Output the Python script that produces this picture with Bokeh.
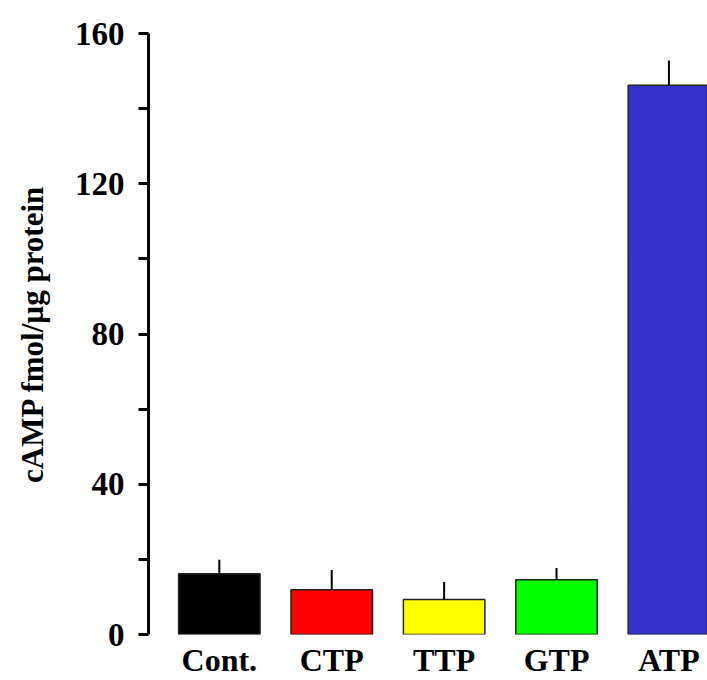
import numpy as np
from bokeh.plotting import figure
from bokeh.models import Range1d, FixedTicker, ColumnDataSource
from bokeh.embed import file_html
from bokeh.resources import INLINE

categories = ["Cont.", "CTP", "TTP", "GTP", "ATP"]
values = [16.2, 11.9, 9.3, 14.6, 146.2]
errors = [3.7, 5.3, 4.7, 3.1, 6.6]
colors = ["#000000", "#FF0000", "#FFFF00", "#00FF00", "#3333CC"]
y_ticks = [0, 40, 80, 120, 160]
y_minor = [20, 60, 100, 140]

xs = list(range(1, len(categories) + 1))
src = ColumnDataSource(dict(
    x=xs, top=values, color=colors,
    err_top=[v + e for v, e in zip(values, errors)],
))

FONT = "Liberation Serif"

p = figure(width=707, height=680, output_backend="svg", toolbar_location=None,
           x_range=Range1d(0.37, 5.343), y_range=Range1d(0, 160),
           min_border_left=148, min_border_right=0, min_border_top=33,
           min_border_bottom=43)
p.outline_line_color = None
p.grid.visible = False
p.background_fill_color = "white"
p.border_fill_color = "white"

p.vbar(x="x", top="top", bottom=0, width=0.725, fill_color="color",
       line_color="#222222", line_width=1.5, source=src)
p.segment(x0="x", y0="top", x1="x", y1="err_top", line_color="black",
          line_width=2, source=src)

# y axis
ya = p.yaxis[0]
ya.ticker = FixedTicker(ticks=y_ticks, minor_ticks=y_minor)
ya.axis_label = "cAMP fmol/µg protein"
ya.axis_label_text_font = FONT
ya.axis_label_text_font_style = "bold"
ya.axis_label_text_font_size = "31px"
ya.axis_label_text_color = "black"
ya.axis_label_standoff = 22
ya.major_label_text_font = FONT
ya.major_label_text_font_style = "bold"
ya.major_label_text_font_size = "33px"
ya.major_label_text_color = "black"
ya.major_label_standoff = 14
ya.axis_line_width = 3
ya.axis_line_color = "black"
ya.major_tick_line_width = 3
ya.minor_tick_line_width = 3
ya.major_tick_out = 10
ya.major_tick_in = 0
ya.minor_tick_out = 10
ya.minor_tick_in = 0

# x axis
xa = p.xaxis[0]
xa.ticker = FixedTicker(ticks=xs, minor_ticks=[])
xa.major_label_overrides = {x: c for x, c in zip(xs, categories)}
xa.axis_line_color = None
xa.major_tick_line_color = None
xa.minor_tick_line_color = None
xa.major_tick_out = 0
xa.major_tick_in = 0
xa.major_label_text_font = FONT
xa.major_label_text_font_style = "bold"
xa.major_label_text_font_size = "32px"
xa.major_label_text_color = "black"
xa.major_label_standoff = 7

open("out.html", "w").write(file_html(p, INLINE))
